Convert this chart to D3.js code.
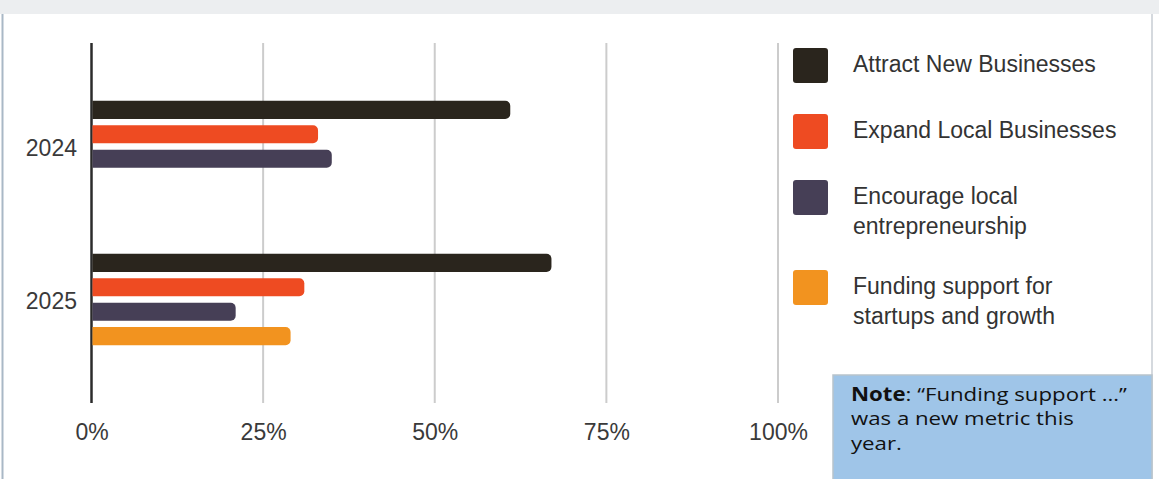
<!DOCTYPE html>
<html>
<head>
<meta charset="utf-8">
<script src="https://cdn.jsdelivr.net/npm/d3@7"></script>
<style>
  html, body { margin: 0; padding: 0; background: #ffffff; }
  svg { display: block; }
</style>
</head>
<body>
<svg id="chart" width="1159" height="479"></svg>
<script>
// Survey years and priority series
const years = ["2024", "2025"];
const seriesNames = [
  "Attract New Businesses",
  "Expand Local Businesses",
  "Encourage local entrepreneurship",
  "Funding support for startups and growth"
];
const legendLines = [
  ["Attract New Businesses"],
  ["Expand Local Businesses"],
  ["Encourage local", "entrepreneurship"],
  ["Funding support for", "startups and growth"]
];
const seriesColors = ["#2a251d", "#ee4b22", "#463f56", "#f2931f"];
// Share of respondents (%), null where the metric was not asked
const values2024 = [61, 33, 35, null];
const values2025 = [67, 31, 21, 29];
const tickValues = [0, 25, 50, 75, 100];
const noteLines = [
  [{ t: "Note", b: true }, { t: ": \u201cFunding support \u2026\u201d", b: false }],
  [{ t: "was a new metric this", b: false }],
  [{ t: "year.", b: false }]
];

const valuesByYear = { "2024": values2024, "2025": values2025 };

const svg = d3.select("#chart");
const W = 1159, H = 479;
const plotTop = 43, plotBottom = 403;

// Frame: grey header strip and side borders
svg.append("rect").attr("x", 0).attr("y", 0).attr("width", W).attr("height", 14).attr("fill", "#eceef0");
svg.append("line").attr("x1", 2.5).attr("x2", 2.5).attr("y1", 14).attr("y2", H)
  .attr("stroke", "#a9b8c6").attr("stroke-width", 2);
svg.append("line").attr("x1", 1152).attr("x2", 1152).attr("y1", 14).attr("y2", H)
  .attr("stroke", "#c7cdd3").attr("stroke-width", 1.5);

const x = d3.scaleLinear().domain([0, 100]).range([91.5, 778]);
const y = d3.scaleBand().domain(years).range([plotTop, plotBottom]).paddingInner(0.362).paddingOuter(0.3575);
const yInner = d3.scaleBand().domain(seriesNames).range([0, y.bandwidth()])
  .paddingInner(0.26).paddingOuter(0.13);

// Vertical gridlines and zero line
const grid = svg.append("g");
grid.selectAll("line").data(tickValues).join("line")
  .attr("x1", d => x(d)).attr("x2", d => x(d))
  .attr("y1", plotTop).attr("y2", plotBottom)
  .attr("stroke", d => d === 0 ? "#2b2b2b" : "#cccccc")
  .attr("stroke-width", d => d === 0 ? 2.5 : 2);

// X axis tick labels
const xAxis = svg.append("g").attr("transform", `translate(0,${plotBottom})`)
  .call(d3.axisBottom(x).tickValues(tickValues).tickFormat(d => d + "%").tickSize(0).tickPadding(0));
xAxis.select(".domain").remove();
xAxis.selectAll("text")
  .attr("y", 37).attr("dy", null)
  .attr("font-family", "Liberation Sans, Arial, sans-serif")
  .attr("font-size", 23).attr("fill", "#3a3a3a");

// Y axis category labels
const yAxis = svg.append("g").attr("transform", `translate(77,0)`)
  .call(d3.axisLeft(y).tickSize(0).tickPadding(0));
yAxis.select(".domain").remove();
yAxis.selectAll("text")
  .attr("x", 0).attr("dy", "0.43em")
  .attr("font-family", "Liberation Sans, Arial, sans-serif")
  .attr("font-size", 23).attr("fill", "#3a3a3a");

// Bars with a rounded right end
function barPath(x0, x1, y0, h, r) {
  r = Math.min(r, (x1 - x0), h / 2);
  return `M${x0},${y0}H${x1 - r}A${r},${r} 0 0 1 ${x1},${y0 + r}V${y0 + h - r}` +
    `A${r},${r} 0 0 1 ${x1 - r},${y0 + h}H${x0}Z`;
}

const barData = [];
years.forEach(yr => {
  valuesByYear[yr].forEach((v, i) => {
    if (v !== null) barData.push({ year: yr, series: seriesNames[i], value: v, color: seriesColors[i] });
  });
});

svg.append("g").selectAll("path").data(barData).join("path")
  .attr("d", d => barPath(x(0) + 1, x(d.value), y(d.year) + yInner(d.series), yInner.bandwidth(), 5))
  .attr("fill", d => d.color);

// Legend
const legend = svg.append("g");
let ly = 48;
legendLines.forEach((lines, i) => {
  const g = legend.append("g").attr("transform", `translate(793,${ly})`);
  g.append("rect").attr("width", 35).attr("height", 35).attr("rx", 3).attr("fill", seriesColors[i]);
  const t = g.append("text")
    .attr("font-family", "Liberation Sans, Arial, sans-serif")
    .attr("font-size", 23).attr("fill", "#333333");
  lines.forEach((ln, j) => {
    t.append("tspan").attr("x", 60).attr("y", 24 + j * 30).text(ln);
  });
  ly += 66 + (lines.length - 1) * 24;
});

// Note box (text widened horizontally for a broad geometric look)
const note = svg.append("g");
note.append("rect").attr("x", 833).attr("y", 375).attr("width", 319).attr("height", 110)
  .attr("fill", "#9fc5e8").attr("stroke", "#b8c3cc").attr("stroke-width", 1.5);
const noteText = note.append("g").attr("transform", "translate(851,0) scale(1.17,1)");
noteLines.forEach((parts, i) => {
  const t = noteText.append("text").attr("x", 0).attr("y", 401 + i * 24.5)
    .attr("font-family", "Open Sans, Noto Sans, sans-serif")
    .attr("font-size", 19).attr("fill", "#111111");
  parts.forEach(p => t.append("tspan").attr("font-weight", p.b ? 700 : 400).text(p.t));
});
</script>
</body>
</html>
